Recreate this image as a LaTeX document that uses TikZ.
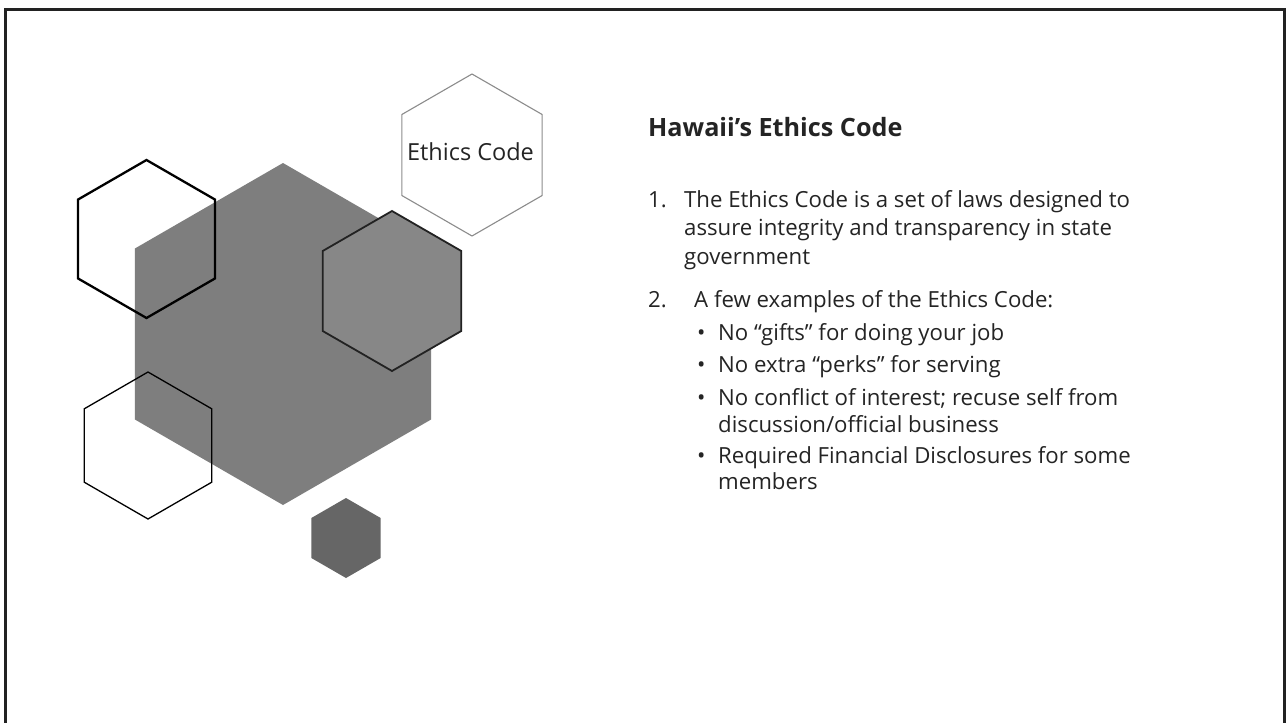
\documentclass[tikz,border=0pt]{standalone}
\usepackage{fontspec}
\setmainfont{Open Sans}
\newfontfamily\bodyfont{Open Sans}
\newfontfamily\titlefont{Open Sans}[UprightFont=* Bold]
\usetikzlibrary{shapes.geometric}
\definecolor{ink}{HTML}{242424}
\definecolor{biggray}{HTML}{7E7E7E}
\definecolor{midgray}{HTML}{878787}
\definecolor{darkgray}{HTML}{666666}
\definecolor{framec}{HTML}{222222}
\begin{document}
\begin{tikzpicture}[x=1pt,y=-1pt,
  hexa/.style={regular polygon, regular polygon sides=6, shape border rotate=30,
    inner sep=0pt, outer sep=0pt, minimum size=#1},
  body/.style={anchor=base west, inner sep=0pt, text=ink, font=\bodyfont\fontsize{22.2}{28}\selectfont},
  title/.style={anchor=base west, inner sep=0pt, text=ink, font=\titlefont\fontsize{25.2}{29}\selectfont}]
\useasboundingbox (0,0) rectangle (1286,723);
\fill[white] (0,0) rectangle (1286,723);
% frame
\draw[framec, line width=3pt] (5.5,723) -- (5.5,9.5) -- (1284.5,9.5) -- (1284.5,723);
% hexagons
\node[hexa=342pt, fill=biggray] (big) at (283,334) {};
\node[hexa=158pt, draw=black, line width=2.3pt] (hexTL) at (146.5,239) {};
\node[hexa=147pt, draw=black, line width=1.3pt] (hexBL) at (148,445.5) {};
\node[hexa=160pt, fill=midgray, draw=framec, line width=1.8pt] (hexR) at (392,291) {};
\node[hexa=162pt, draw=gray!90, line width=1.1pt, fill=white] (hexEC) at (472,155) {};
\node[anchor=base, inner sep=0pt, text=ink, font=\bodyfont\fontsize{23.5}{23.5}\selectfont] (eclabel) at (470.5,160) {Ethics Code};
\node[hexa=80pt, fill=darkgray] (hexS) at (346,538) {};
% title
\node[title] (ttl) at (648,136) {Hawaii’s Ethics Code};
% list
\node[body] (n1) at (648,207) {1.};
\node[body] (l1a) at (684,207) {The Ethics Code is a set of laws designed to};
\node[body] (l1b) at (684,235) {assure integrity and transparency in state};
\node[body] (l1c) at (684,264) {government};
\node[body] (n2) at (648,307) {2.};
\node[body] (l2) at (694,307) {A few examples of the Ethics Code:};
\node[body] (b1) at (697,340) {•};
\node[body] (t1) at (718,340) {No “gifts” for doing your job};
\node[body] (b2) at (697,372) {•};
\node[body] (t2) at (718,372) {No extra “perks” for serving};
\node[body] (b3) at (697,405) {•};
\node[body] (t3a) at (718,405) {No conflict of interest; recuse self from};
\node[body] (t3b) at (718,432) {discussion/official business};
\node[body] (b4) at (697,463) {•};
\node[body] (t4a) at (718,463) {Required Financial Disclosures for some};
\node[body] (t4b) at (718,489) {members};
\end{tikzpicture}
\end{document}
